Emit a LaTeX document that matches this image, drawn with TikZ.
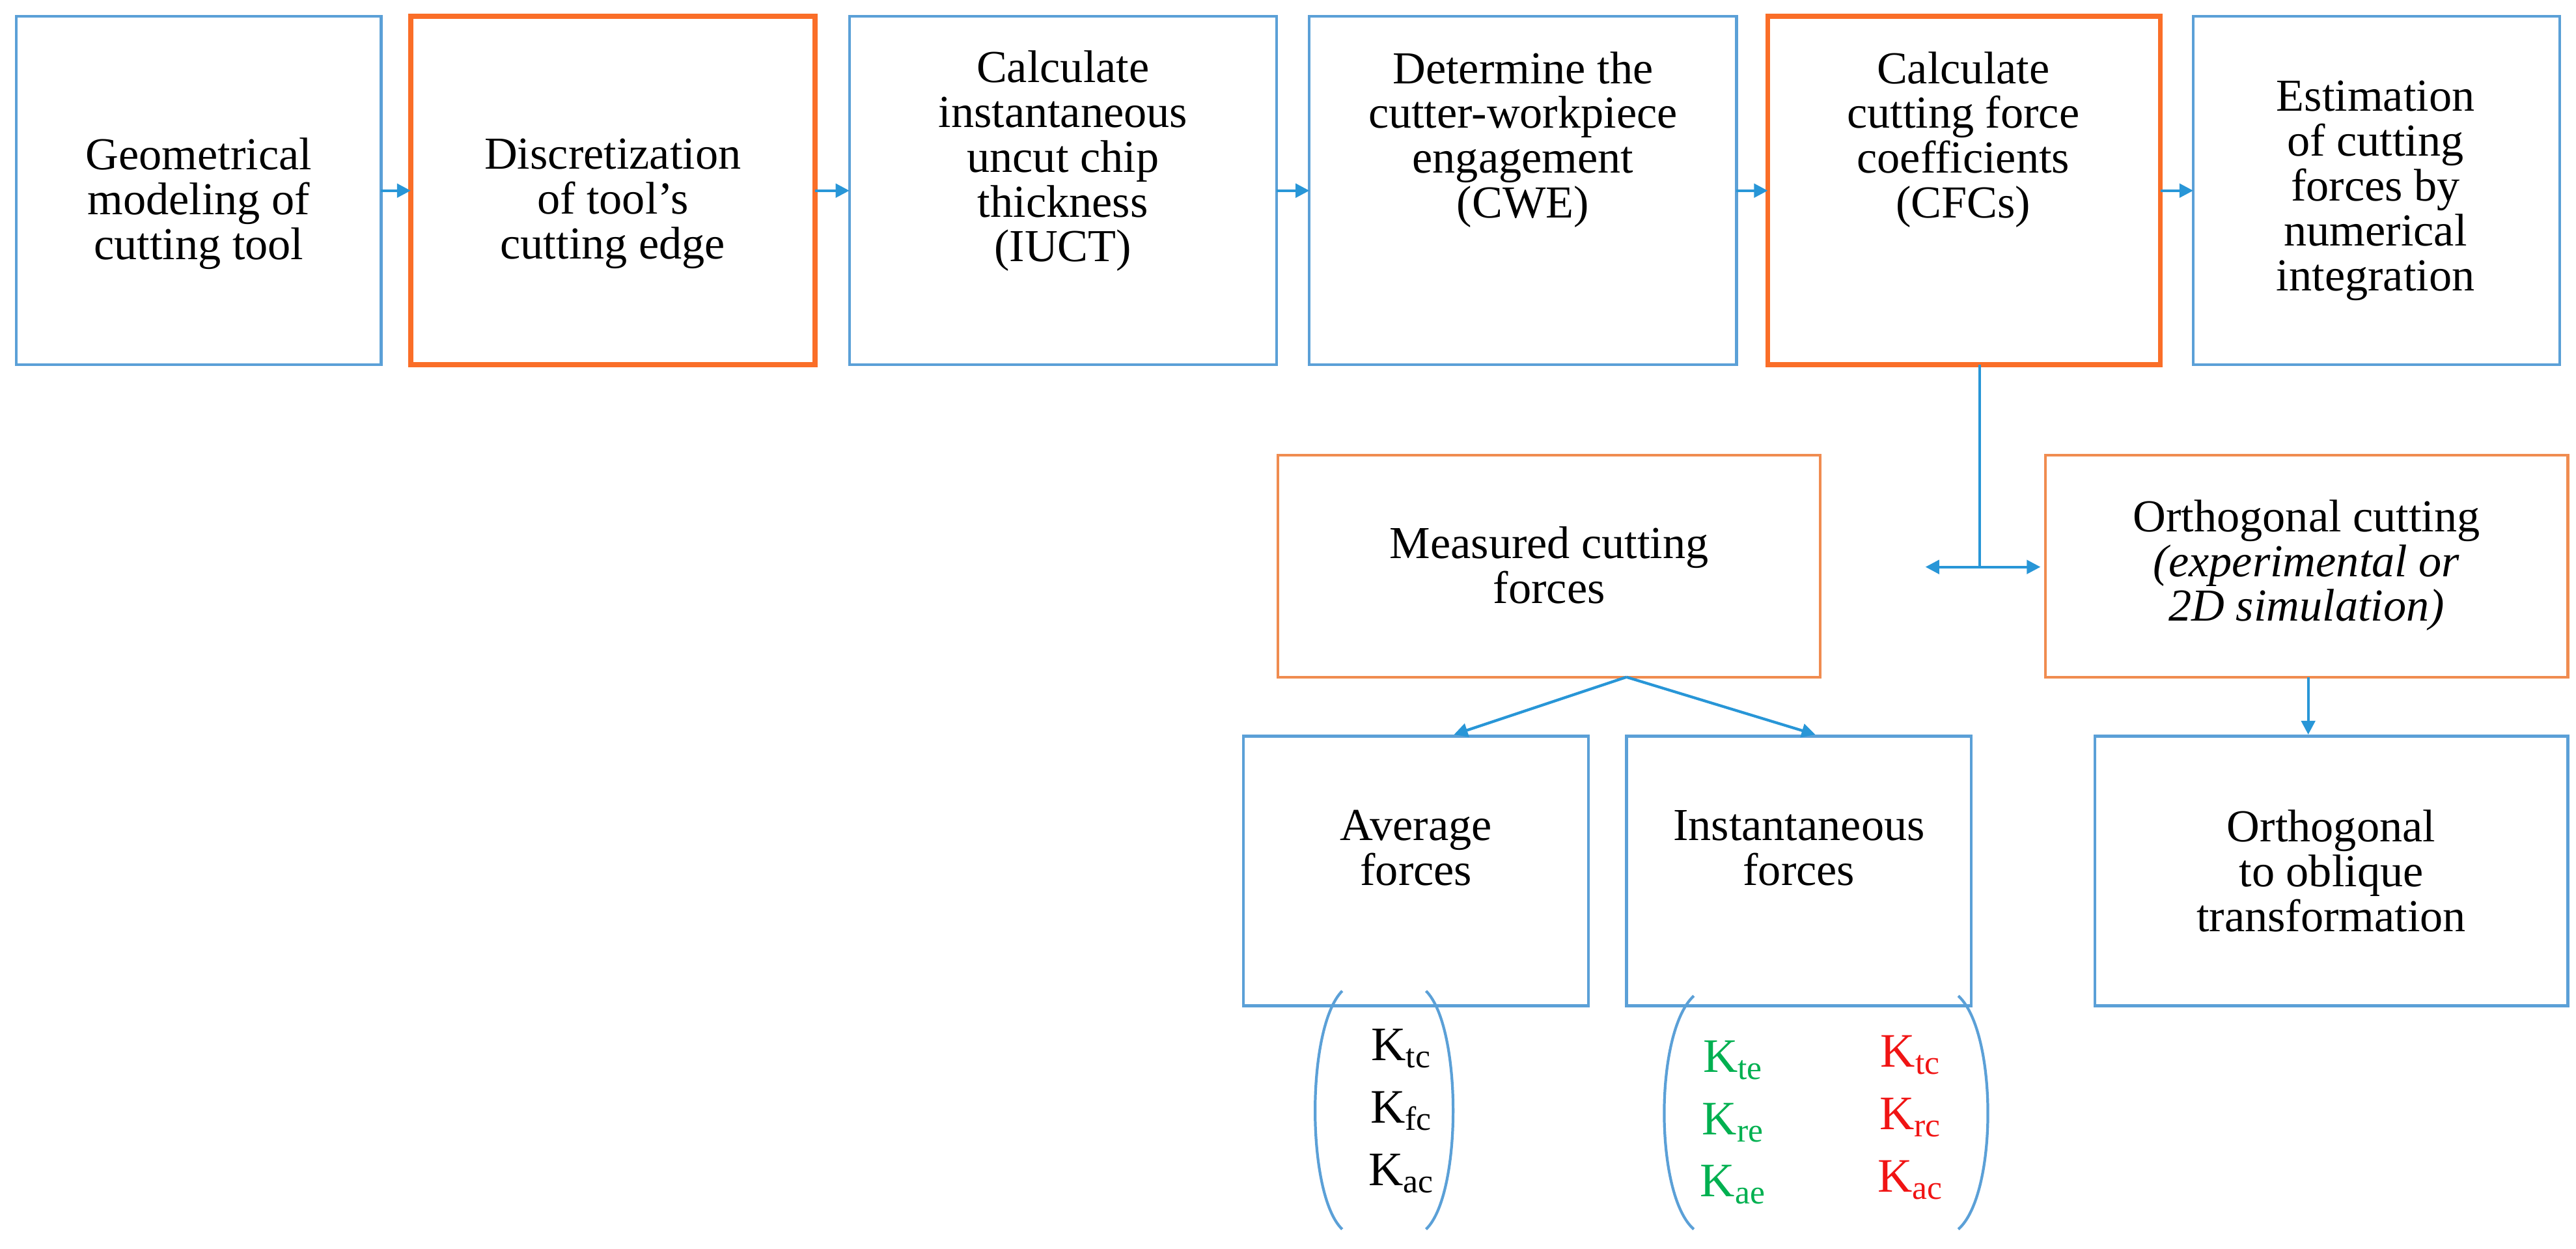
\documentclass[tikz,border=0pt]{standalone}
\usepackage{fontspec}
\setmainfont{Liberation Serif}
\usetikzlibrary{arrows.meta}
\definecolor{bl}{RGB}{91,160,215}
\definecolor{orT}{RGB}{250,110,40}
\definecolor{orL}{RGB}{240,140,80}
\definecolor{ar}{RGB}{40,150,215}
\definecolor{gr}{RGB}{0,176,80}
\definecolor{rd}{RGB}{240,20,20}
\begin{document}
\begin{tikzpicture}[x=0.02524cm,y=-0.02524cm,
  tx/.style={align=center,font=\fontsize{20}{19.6}\selectfont},
  bxl/.style={draw=bl,line width=1.2pt},
  otl/.style={draw=orT,line width=2.2pt},
  oll/.style={draw=orL,line width=1.2pt},
  arr/.style={draw=ar,line width=1.2pt,-{Triangle[length=6pt,width=6pt]}},
  par/.style={draw=bl,line width=1.2pt},
  kk/.style={font=\fontsize{21}{22}\selectfont}]
\useasboundingbox (0,0) rectangle (1568,760);
% top row
\path[bxl] (10,10) rectangle (232,222);
\node[tx] (a) at (121,124) {Geometrical\\modeling of\\cutting tool};
\path[otl] (250,10) rectangle (496,222);
\node[tx] (b) at (373,124) {Discretization\\of tool’s\\cutting edge};
\path[bxl] (517,10) rectangle (777,222);
\node[tx] (c) at (647,98) {Calculate\\instantaneous\\uncut chip\\thickness\\(IUCT)};
\path[bxl] (797,10) rectangle (1057,222);
\node[tx] (d) at (927,85) {Determine the\\cutter-workpiece\\engagement\\(CWE)};
\path[otl] (1076,10) rectangle (1315,222);
\node[tx] (e) at (1195,85) {Calculate\\cutting force\\coefficients\\(CFCs)};
\path[bxl] (1335,10) rectangle (1558,222);
\node[tx] (f) at (1446,116) {Estimation\\of cutting\\forces by\\numerical\\integration};
\coordinate (a1) at (232,116); \coordinate (b0) at (250,116);
\coordinate (b1) at (496,116); \coordinate (c0) at (517,116);
\coordinate (c1) at (777,116); \coordinate (d0) at (797,116);
\coordinate (d1) at (1057,116); \coordinate (e0) at (1076,116);
\coordinate (e1) at (1315,116); \coordinate (f0) at (1335,116);
\draw[arr] (a1) -- (b0); \draw[arr] (b1) -- (c0); \draw[arr] (c1) -- (d0);
\draw[arr] (d1) -- (e0); \draw[arr] (e1) -- (f0);
% middle
\path[oll] (778,277) rectangle (1108,412);
\node[tx] (m) at (943,344) {Measured cutting\\forces};
\path[oll] (1245,277) rectangle (1563,412);
\node[tx] (o) at (1404,344) {Orthogonal cutting\\\textit{(experimental or}\\\textit{2D simulation)}};
\coordinate (eb) at (1205,222); \coordinate (j) at (1205,345);
\coordinate (jl) at (1172,345); \coordinate (jr) at (1242,345);
\draw[draw=ar,line width=1.2pt] (eb) -- (j);
\draw[draw=ar,line width=1.2pt,{Triangle[length=6pt,width=6pt]}-{Triangle[length=6pt,width=6pt]}] (jl) -- (jr);
% bottom
\path[bxl] (757,448) rectangle (967,612);
\node[tx] (av) at (862,516) {Average\\forces};
\path[bxl] (990,448) rectangle (1200,612);
\node[tx] (in) at (1095,516) {Instantaneous\\forces};
\path[bxl] (1275,448) rectangle (1563,612);
\node[tx] (ob) at (1419,530) {Orthogonal\\to oblique\\transformation};
\coordinate (mb) at (990,412); \coordinate (avt) at (885,447); \coordinate (int) at (1105,447);
\coordinate (ob0) at (1405,412); \coordinate (ob1) at (1405,447);
\draw[arr] (mb) -- (avt); \draw[arr] (mb) -- (int); \draw[arr] (ob0) -- (ob1);
% parentheses
\draw[par] (817,603) .. controls (795,625) and (795,727) .. (817,748);
\draw[par] (868,603) .. controls (890,625) and (890,727) .. (868,748);
\draw[par] (1031,606) .. controls (1007,628) and (1007,727) .. (1031,748);
\draw[par] (1192,606) .. controls (1216,628) and (1216,727) .. (1192,748);
\node[kk] (k1) at (853,638) {K\textsubscript{tc}};
\node[kk] (k2) at (853,676) {K\textsubscript{fc}};
\node[kk] (k3) at (853,714) {K\textsubscript{ac}};
\node[kk,text=gr] (g1) at (1055,645) {K\textsubscript{te}};
\node[kk,text=gr] (g2) at (1055,683) {K\textsubscript{re}};
\node[kk,text=gr] (g3) at (1055,721) {K\textsubscript{ae}};
\node[kk,text=rd] (r1) at (1163,642) {K\textsubscript{tc}};
\node[kk,text=rd] (r2) at (1163,680) {K\textsubscript{rc}};
\node[kk,text=rd] (r3) at (1163,718) {K\textsubscript{ac}};
\end{tikzpicture}
\end{document}
